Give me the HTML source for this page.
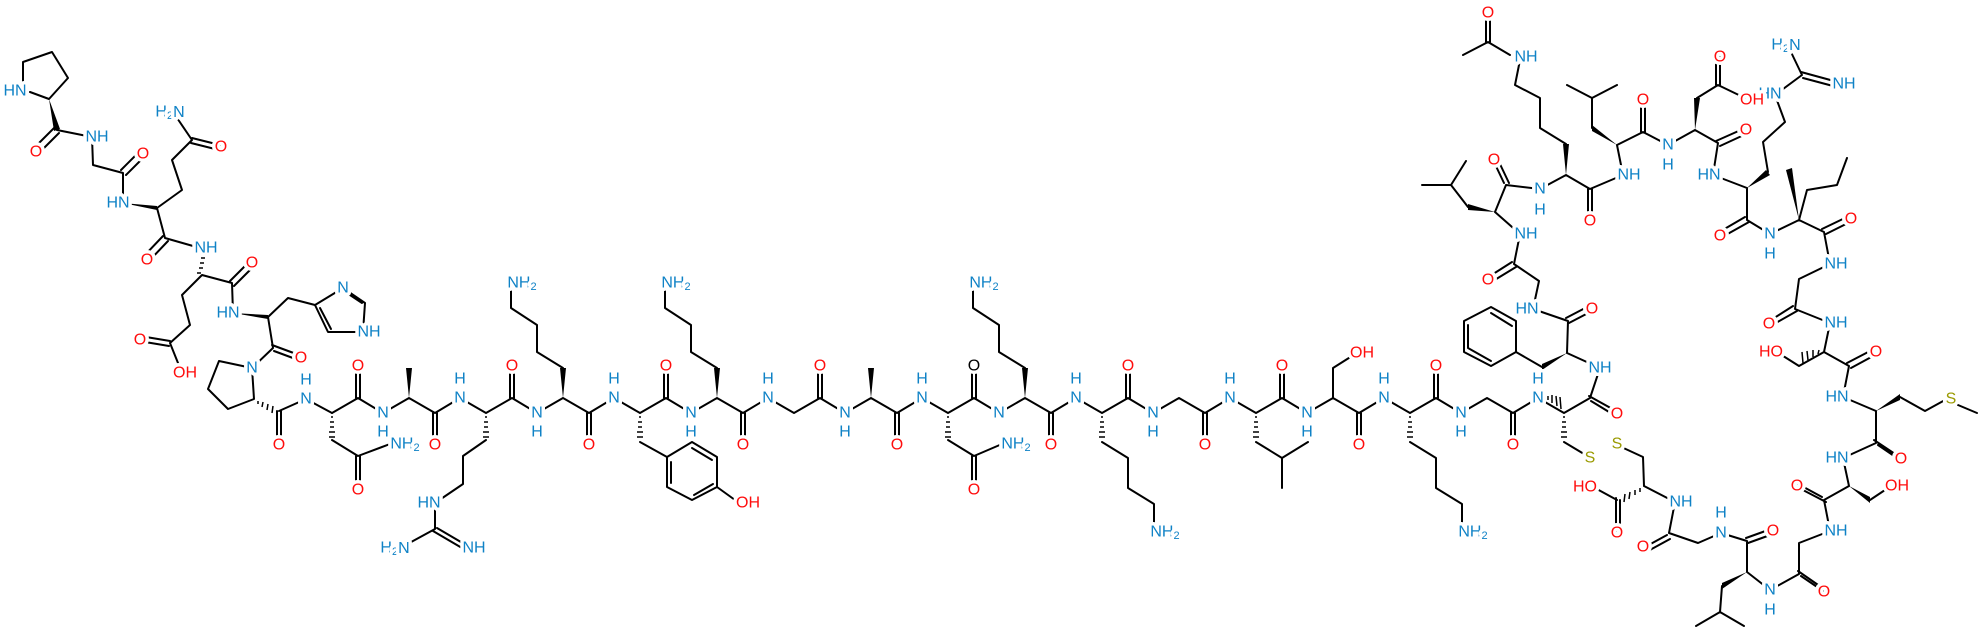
<!DOCTYPE html>
<html><head><meta charset="utf-8"><style>
html,body{margin:0;padding:0;background:#fff;}
svg{display:block;}
text{font-family:"Liberation Sans",sans-serif;font-size:16px;text-anchor:middle;dominant-baseline:central;paint-order:stroke;stroke:#fff;stroke-width:7px;stroke-linejoin:round;}
.n{fill:#0f82c6;}
.o{fill:#ff0d0d;}
.s{fill:#9a9a00;}
.k{fill:#000;}
tspan.sub{font-size:11px;}
</style></head><body>
<svg width="1980" height="638" viewBox="0 0 1980 638" xmlns="http://www.w3.org/2000/svg">
<g fill="none" stroke="#000" stroke-width="2" stroke-linejoin="round" stroke-linecap="round">
<path d="M23 84 L23 62 L52 52 L68 78 L49 99 L30 92 M57 130 L92 137 L93 165 L123 173 M123 173 L123 203"/>
<path d="M55 127 L34 148 M59 133 L38 154 M121 170 L140 151 M126 175 L145 156"/>
<path d="M157 208 L182 190 L172 160 L192 140 L173 112 M157 208 L165 238 L200 248"/>
<path d="M192 138 L220 145 M191 143 L219 150 M163 236 L144 256 M168 241 L149 261"/>
<path d="M202 275 L182 295 L190 325 L170 343 L182 373 M202 275 L232 283 L233 313 M268 317 L288 298 L315 305"/>
<path d="M170 341 L140 336 M169 346 L139 341 M230 281 L250 261 M234 286 L254 266"/>
<path d="M315 305 L343 288 L365 303 L363 332 L328 332 L315 305 M320 308 L331 329 M347 293 L362 303"/>
<path d="M268 317 L273 348 L252 368 M279 411 L306 399 L332 413"/>
<path d="M272 345 L299 355 M274 351 L301 361"/>
<path d="M252 368 L219 361 L208 389 L228 409 L254 399 L252 368"/>
<path d="M277 411 L277 443 M281 411 L281 443"/>
<path d="M332 413 L358 398 L383 413 L409 398 L435 413 L460 398 L486 413 L512 398 L537 413 L563 398 L589 413 L614 398 L640 413 L666 398 L691 413 L717 398 L743 413 L768 398 L794 413 L820 398 L845 413 L871 398 L897 413 L922 398 L948 413 L974 398 L999 413 L1025 398 L1051 413 L1076 398 L1102 413 L1128 398 L1153 413 L1179 398 L1205 413 L1230 398 L1256 413 L1282 398 L1307 413 L1333 398 L1359 413 L1384 398 L1410 413 L1436 398 L1461 413 L1487 398 L1513 413 L1538 398 L1564 413 L1590 398 L1600 368"/>
<path d="M356 398 L356 368 M360 398 L360 368 M510 398 L510 368 M514 398 L514 368 M664 398 L664 368 M668 398 L668 368 M818 398 L818 368 M822 398 L822 368 M972 398 L972 368 M976 398 L976 368 M1126 398 L1126 368 M1130 398 L1130 368 M1280 398 L1280 368 M1284 398 L1284 368 M1434 398 L1434 368 M1438 398 L1438 368"/>
<path d="M433 413 L433 443 M437 413 L437 443 M587 413 L587 443 M591 413 L591 443 M741 413 L741 443 M745 413 L745 443 M895 413 L895 443 M899 413 L899 443 M1049 413 L1049 443 M1053 413 L1053 443 M1203 413 L1203 443 M1207 413 L1207 443 M1357 413 L1357 443 M1361 413 L1361 443 M1511 413 L1511 443 M1515 413 L1515 443"/>
<path d="M1589 396 L1616 411 M1591 401 L1614 415"/>
<path d="M332 440 L358 456 L390 444 M356 456 L356 488 M360 456 L360 488"/>
<path d="M486 440 L463 456 L463 484 L435 503 L435 529 L402 547 M437 528 L466 545 M433 531 L462 548"/>
<path d="M563 368 L537 352 L537 325 L511 308 L511 290"/>
<path d="M640 442 L667 457 M667 457 L692 442 L717 457 L717 487 L692 500 L667 487 Z M717 487 L735 500 M671 462 L671 483 M692 448 L712 460 M694 495 L713 484"/>
<path d="M717 368 L691 352 L691 325 L665 308 L665 290"/>
<path d="M948 440 L974 456 L1002 444 M972 456 L972 488 M976 456 L976 488"/>
<path d="M1025 368 L999 352 L999 325 L973 308 L973 290"/>
<path d="M1102 442 L1128 458 L1128 488 L1154 504 L1154 528"/>
<path d="M1256 442 L1282 458 L1308 442 M1282 458 L1282 488"/>
<path d="M1333 398 L1333 368 L1352 356"/>
<path d="M1410 442 L1436 458 L1436 488 L1462 504 L1462 528"/>
<path d="M1564 442 L1589 457 M1617 445 L1643 457 L1644 486 M1617 500 L1595 488 M1644 486 L1675 502 L1669 533 L1698 543 L1721 533 L1747 541 L1747 572 M1722 586 L1720 612 L1696 626 M1720 612 L1744 626 M1747 572 L1770 590 L1799 574 L1799 543 L1830 531 L1824 500 L1849 486 M1870 500 L1888 488 M1849 486 L1843 458 L1876 443 L1876 411 M1900 397 L1925 411 L1945 400 M1958 405 L1977 413 M1876 411 L1843 397 L1849 366 L1824 352 L1799 366 L1780 354 M1824 352 L1830 323 L1795 309 L1799 279 L1830 264 L1824 232 L1799 220 L1807 190 L1837 185 L1847 158 M1799 220 L1770 234 L1747 220 L1747 188 M1768 172 L1763 142 L1785 122 L1775 95 L1802 75 L1790 50 M1747 188 L1713 175 L1718 143 L1695 130 M1697 98 L1718 85 L1745 98 M1695 130 L1668 145 L1643 132 L1617 145 M1592 128 L1592 98 L1567 85 M1592 98 L1617 85 M1617 145 L1623 175 L1590 189 L1566 175 L1540 189 L1506 185 L1495 212 M1468 207 L1451 185 L1422 185 M1451 185 L1466 161 M1495 212 L1520 234 L1514 264 L1539 281 L1533 309 L1568 321 L1567 353 M1542 367 L1516 352 M1567 353 L1600 368 M1566 144 L1540 128 L1540 98 L1515 85 L1520 60 M1510 55 L1488 42 L1463 55"/>
<path d="M1516 352 L1516 321 L1491 307 L1464 321 L1464 352 L1491 366 Z M1512 326 L1491 313 M1468 348 L1491 361 M1468 325 L1468 348"/>
<path d="M1616 498 L1616 531 M1620 500 L1620 531 M1667 535 L1645 547 M1670 539 L1648 551 M1746 538 L1771 529 M1748 543 L1773 534 M1798 571 L1821 587 M1801 576 L1823 591 M1822 497 L1798 484 M1826 502 L1801 489 M1874 440 L1898 456 M1878 445 L1900 460 M1847 363 L1872 350 M1851 368 L1875 355 M1793 306 L1771 320 M1797 311 L1774 324 M1822 229 L1847 217 M1826 234 L1850 222 M1745 217 L1721 231 M1749 222 L1724 236 M1716 141 L1743 129 M1720 146 L1746 134 M1716 85 L1716 57 M1720 85 L1720 57 M1801 72 L1834 81 M1803 78 L1833 86 M1641 132 L1641 102 M1645 132 L1645 102 M1588 189 L1588 220 M1592 189 L1592 220 M1504 183 L1494 162 M1509 183 L1499 162 M1512 262 L1490 276 M1516 267 L1493 281 M1566 318 L1589 306 M1569 323 L1592 311 M1486 42 L1486 13 M1490 42 L1490 13"/>
</g>
<g fill="none" stroke="#000" stroke-width="1.5">
<path d="M331 417 L333 417 M330 422 L334 422 M330 427 L334 427 M329 432 L335 432 M329 437 L335 437"/>
<path d="M485 417 L487 417 M484 422 L488 422 M484 427 L488 427 M483 432 L489 432 M483 437 L489 437"/>
<path d="M639 417 L641 417 M638 422 L642 422 M638 427 L642 427 M637 432 L643 432 M637 437 L643 437"/>
<path d="M947 417 L949 417 M946 422 L950 422 M946 427 L950 427 M945 432 L951 432 M945 437 L951 437"/>
<path d="M1101 417 L1103 417 M1100 422 L1104 422 M1100 427 L1104 427 M1099 432 L1105 432 M1099 437 L1105 437"/>
<path d="M1255 417 L1257 417 M1254 422 L1258 422 M1254 427 L1258 427 M1253 432 L1259 432 M1253 437 L1259 437"/>
<path d="M1409 417 L1411 417 M1408 422 L1412 422 M1408 427 L1412 427 M1407 432 L1413 432 M1407 437 L1413 437"/>
<path d="M1563 417 L1565 417 M1562 422 L1566 422 M1562 427 L1566 427 M1561 432 L1567 432 M1561 437 L1567 437"/>
<path d="M258 401 L258 404 M263 402 L262 407 M268 404 L267 410 M273 406 L272 413"/>
<path d="M1548 400 L1548 396 M1552 403 L1552 395 M1557 406 L1556 396 M1561 409 L1560 397"/>
<path d="M1640 488 L1640 492 M1635 490 L1635 495 M1630 492 L1629 499 M1625 494 L1624 502"/>
<path d="M1818 354 L1819 350 M1813 357 L1813 350 M1808 360 L1807 351 M1803 363 L1802 352"/>
<path d="M197 273 L201 273 M199 268 L203 268 M200 263 L204 263 M201 258 L205 258 M202 253 L206 253"/>
</g>
<g fill="#000" stroke="none">
<polygon points="49,99 54,131 60,129"/>
<polygon points="123,203 157,206 157,210"/>
<polygon points="233,313 268,315 268,319"/>
<polygon points="409,398 406,368 412,368"/>
<polygon points="563,398 560,368 566,368"/>
<polygon points="717,398 714,368 720,368"/>
<polygon points="871,398 868,368 874,368"/>
<polygon points="1025,398 1022,368 1028,368"/>
<polygon points="1799,220 1786,170 1792,168"/>
<polygon points="1747,188 1766,170 1770,175"/>
<polygon points="1695,130 1694,98 1700,98"/>
<polygon points="1495,212 1468,204 1468,210"/>
<polygon points="1566,175 1563,144 1569,144"/>
<polygon points="1617,145 1592,125 1592,131"/>
<polygon points="1567,353 1542,364 1542,370"/>
<polygon points="1876,411 1900,394 1900,400"/>
<polygon points="1849,486 1870,497 1870,503"/>
<polygon points="1747,572 1722,583 1722,589"/>
</g>
<text class="n" x="15" y="91">HN</text>
<text class="o" x="36" y="152">O</text>
<text class="n" x="97" y="137">NH</text>
<text class="o" x="143" y="154">O</text>
<text class="n" x="118" y="203">HN</text>
<text class="n" x="170" y="112">H<tspan class="sub" dy="4">2</tspan><tspan dy="-4">N</tspan></text>
<text class="o" x="221" y="147">O</text>
<text class="o" x="147" y="260">O</text>
<text class="n" x="206" y="248">NH</text>
<text class="o" x="252" y="263">O</text>
<text class="o" x="140" y="340">O</text>
<text class="o" x="185" y="373">OH</text>
<text class="n" x="228" y="313">HN</text>
<text class="n" x="343" y="288">N</text>
<text class="n" x="369" y="332">NH</text>
<text class="o" x="301" y="358">O</text>
<text class="n" x="252" y="368">N</text>
<text class="o" x="279" y="445">O</text>
<text class="n" x="306" y="399">N</text><text class="n" x="306" y="380">H</text>
<text class="n" x="383" y="413">N</text><text class="n" x="383" y="432">H</text>
<text class="n" x="460" y="398">N</text><text class="n" x="460" y="379">H</text>
<text class="n" x="537" y="413">N</text><text class="n" x="537" y="432">H</text>
<text class="n" x="614" y="398">N</text><text class="n" x="614" y="379">H</text>
<text class="n" x="691" y="413">N</text><text class="n" x="691" y="432">H</text>
<text class="n" x="768" y="398">N</text><text class="n" x="768" y="379">H</text>
<text class="n" x="845" y="413">N</text><text class="n" x="845" y="432">H</text>
<text class="n" x="922" y="398">N</text><text class="n" x="922" y="379">H</text>
<text class="n" x="999" y="413">N</text>
<text class="n" x="1076" y="398">N</text><text class="n" x="1076" y="379">H</text>
<text class="n" x="1153" y="413">N</text><text class="n" x="1153" y="432">H</text>
<text class="n" x="1230" y="398">N</text><text class="n" x="1230" y="379">H</text>
<text class="n" x="1307" y="413">N</text><text class="n" x="1307" y="432">H</text>
<text class="n" x="1384" y="398">N</text><text class="n" x="1384" y="379">H</text>
<text class="n" x="1461" y="413">N</text><text class="n" x="1461" y="432">H</text>
<text class="n" x="1538" y="398">N</text><text class="n" x="1538" y="379">H</text>
<text class="o" x="358" y="366">O</text>
<text class="o" x="512" y="366">O</text>
<text class="o" x="666" y="366">O</text>
<text class="o" x="820" y="366">O</text>
<text class="k" x="974" y="366">O</text>
<text class="o" x="1128" y="366">O</text>
<text class="o" x="1282" y="366">O</text>
<text class="o" x="1436" y="366">O</text>
<text class="o" x="435" y="445">O</text>
<text class="o" x="589" y="445">O</text>
<text class="o" x="743" y="445">O</text>
<text class="o" x="897" y="445">O</text>
<text class="o" x="1051" y="445">O</text>
<text class="o" x="1205" y="445">O</text>
<text class="o" x="1359" y="445">O</text>
<text class="o" x="1513" y="445">O</text>
<text class="n" x="405" y="444">NH<tspan class="sub" dy="4">2</tspan></text>
<text class="o" x="358" y="490">O</text>
<text class="n" x="429" y="503">HN</text>
<text class="n" x="395" y="548">H<tspan class="sub" dy="4">2</tspan><tspan dy="-4">N</tspan></text>
<text class="n" x="474" y="548">NH</text>
<text class="n" x="522" y="283">NH<tspan class="sub" dy="4">2</tspan></text>
<text class="n" x="676" y="283">NH<tspan class="sub" dy="4">2</tspan></text>
<text class="n" x="984" y="283">NH<tspan class="sub" dy="4">2</tspan></text>
<text class="o" x="748" y="503">OH</text>
<text class="n" x="1016" y="444">NH<tspan class="sub" dy="4">2</tspan></text>
<text class="o" x="974" y="490">O</text>
<text class="n" x="1165" y="532">NH<tspan class="sub" dy="4">2</tspan></text>
<text class="n" x="1473" y="532">NH<tspan class="sub" dy="4">2</tspan></text>
<text class="o" x="1362" y="353">OH</text>
<text class="n" x="1600" y="368">NH</text>
<text class="o" x="1617" y="414">O</text>
<text class="s" x="1590" y="458">S</text>
<text class="s" x="1617" y="444">S</text>
<text class="o" x="1585" y="487">HO</text>
<text class="o" x="1617" y="533">O</text>
<text class="n" x="1681" y="502">NH</text>
<text class="o" x="1643" y="547">O</text>
<text class="n" x="1721" y="533">N</text><text class="n" x="1721" y="513">H</text>
<text class="o" x="1773" y="531">O</text>
<text class="n" x="1770" y="590">N</text><text class="n" x="1770" y="610">H</text>
<text class="o" x="1824" y="592">O</text>
<text class="n" x="1836" y="531">NH</text>
<text class="o" x="1797" y="486">O</text>
<text class="o" x="1897" y="486">OH</text>
<text class="n" x="1837" y="458">HN</text>
<text class="o" x="1901" y="459">O</text>
<text class="s" x="1951" y="399">S</text>
<text class="n" x="1837" y="397">HN</text>
<text class="o" x="1876" y="352">O</text>
<text class="o" x="1771" y="352">HO</text>
<text class="n" x="1836" y="323">NH</text>
<text class="o" x="1769" y="324">O</text>
<text class="n" x="1836" y="264">NH</text>
<text class="o" x="1851" y="219">O</text>
<text class="n" x="1770" y="234">N</text><text class="n" x="1770" y="254">H</text>
<text class="o" x="1720" y="236">O</text>
<text class="n" x="1770" y="94">HN</text>
<text class="n" x="1786" y="45">H<tspan class="sub" dy="4">2</tspan><tspan dy="-4">N</tspan></text>
<text class="n" x="1844" y="84">NH</text>
<text class="n" x="1709" y="175">HN</text>
<text class="o" x="1746" y="130">O</text>
<text class="o" x="1720" y="57">O</text>
<text class="o" x="1752" y="100">OH</text>
<text class="n" x="1668" y="145">N</text><text class="n" x="1668" y="165">H</text>
<text class="o" x="1643" y="100">O</text>
<text class="n" x="1629" y="175">NH</text>
<text class="o" x="1590" y="221">O</text>
<text class="n" x="1526" y="57">NH</text>
<text class="o" x="1488" y="13">O</text>
<text class="n" x="1540" y="189">N</text><text class="n" x="1540" y="210">H</text>
<text class="o" x="1494" y="160">O</text>
<text class="n" x="1526" y="234">NH</text>
<text class="o" x="1488" y="280">O</text>
<text class="n" x="1527" y="309">HN</text>
<text class="o" x="1592" y="309">O</text>
</svg>
</body></html>
